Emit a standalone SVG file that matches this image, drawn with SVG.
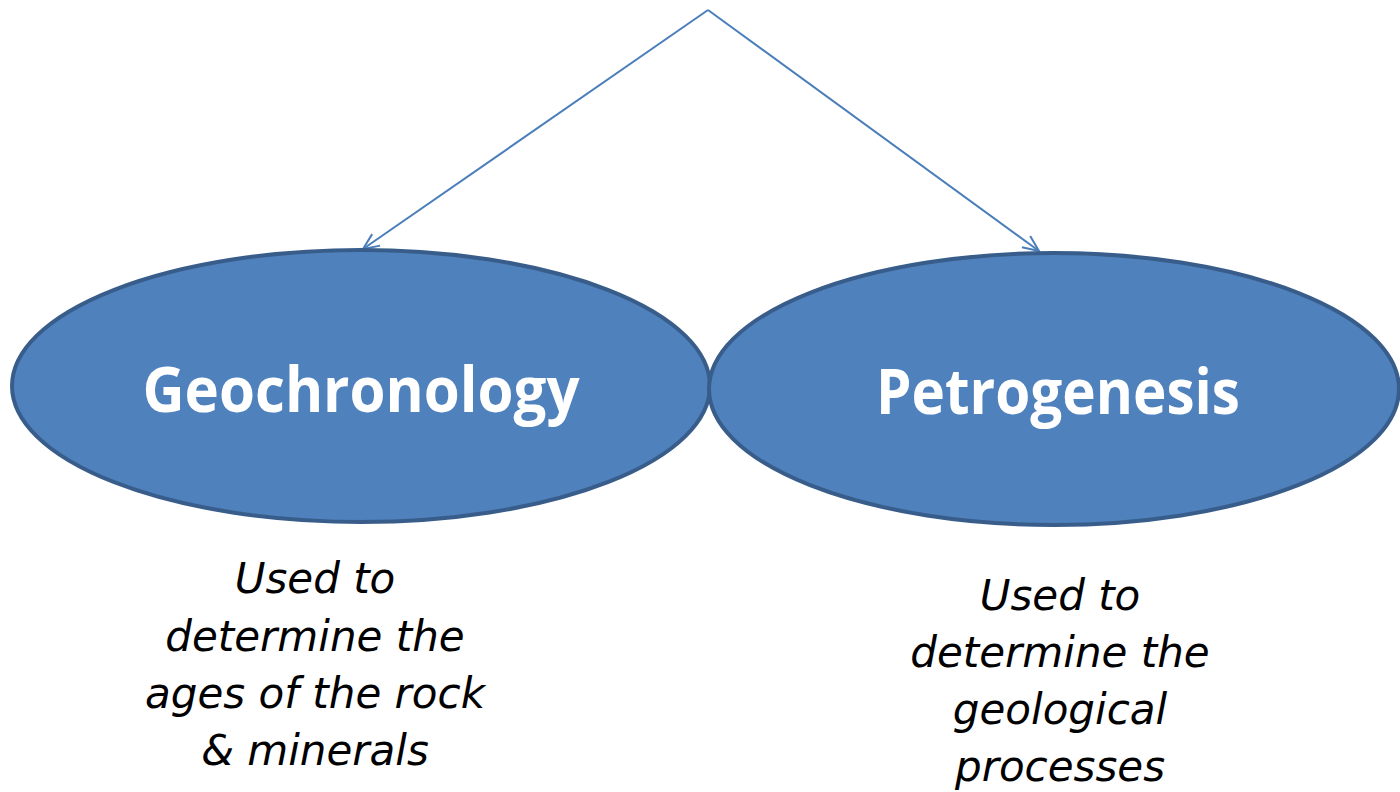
<svg xmlns="http://www.w3.org/2000/svg" width="1400" height="792" viewBox="0 0 1400 792">
<defs>
<style>
.node{fill:#4F81BD;stroke:#385D8A;stroke-width:4}
.title{font-family:"Open Sans","Liberation Sans",sans-serif;font-weight:bold;font-size:62px;fill:#FFFFFF;text-anchor:middle}
.desc{font-family:"DejaVu Sans","Liberation Sans",sans-serif;font-style:italic;font-size:42px;fill:#000000;text-anchor:middle}
.conn{stroke:#4A7EBB;stroke-width:2;fill:none}
</style>
<marker id="arr" viewBox="0 0 20 20" refX="18" refY="10" markerWidth="20" markerHeight="20" markerUnits="userSpaceOnUse" orient="auto">
<path d="M2,3 L18,10 L2,17" fill="none" stroke="#4A7EBB" stroke-width="2"/>
</marker>
</defs>
<rect width="1400" height="792" fill="#FFFFFF"/>
<g id="connectors">
<line class="conn" x1="708" y1="10" x2="363" y2="249" marker-end="url(#arr)"/>
<line class="conn" x1="708" y1="10" x2="1039" y2="251" marker-end="url(#arr)"/>
</g>
<g id="geochronology">
<ellipse class="node" cx="361" cy="386" rx="349" ry="136"/>
<text class="title" x="361" y="412" textLength="437" lengthAdjust="spacingAndGlyphs">Geochronology</text>
</g>
<g id="petrogenesis">
<ellipse class="node" cx="1054" cy="389" rx="345" ry="136"/>
<text class="title" x="1058" y="414" textLength="364" lengthAdjust="spacingAndGlyphs">Petrogenesis</text>
</g>
<g id="geochronology-desc">
<text class="desc" x="315" y="593">Used to</text>
<text class="desc" x="315" y="651">determine the</text>
<text class="desc" x="315" y="708">ages of the rock</text>
<text class="desc" x="315" y="765">&amp; minerals</text>
</g>
<g id="petrogenesis-desc">
<text class="desc" x="1060" y="610">Used to</text>
<text class="desc" x="1060" y="667">determine the</text>
<text class="desc" x="1060" y="724">geological</text>
<text class="desc" x="1060" y="781">processes</text>
</g>
</svg>
